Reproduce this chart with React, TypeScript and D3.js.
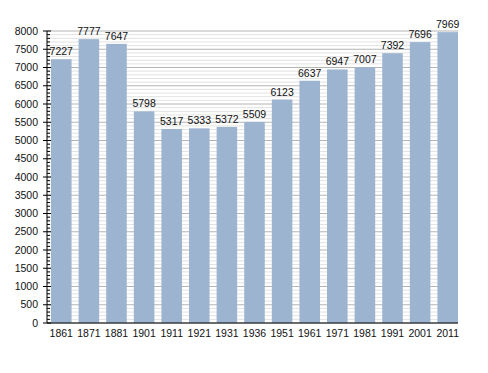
import React from 'react';
import * as d3 from 'd3';

const years = ['1861', '1871', '1881', '1901', '1911', '1921', '1931', '1936', '1951', '1961', '1971', '1981', '1991', '2001', '2011'];
const population = [7227, 7777, 7647, 5798, 5317, 5333, 5372, 5509, 6123, 6637, 6947, 7007, 7392, 7696, 7969];
const yMax = 8000;

const W = 488;
const H = 373;
const margin = { top: 31, right: 30, bottom: 50, left: 47 };

const App: React.FC = () => {
  const innerW = W - margin.left - margin.right; // 411
  const innerH = H - margin.top - margin.bottom; // 292

  const x = d3.scaleBand<string>()
    .domain(years)
    .range([4, innerW])
    .paddingInner(0.255)
    .paddingOuter(0);

  const y = d3.scaleLinear().domain([0, yMax]).range([innerH, 0]);

  const minorTicks = d3.range(0, yMax + 1, 100);
  const majorTicks = d3.range(0, yMax + 1, 500);

  return (
    <svg width={W} height={H} style={{ position: 'absolute', left: 0, top: 0 }}
      fontFamily="'Liberation Sans', Arial, sans-serif" fontSize={10.5}>
      <rect width={W} height={H} fill="white" />
      <g transform={`translate(${margin.left},${margin.top})`}>
        {/* minor grid */}
        {minorTicks.filter(t => t % 500 !== 0).map(t => (
          <line key={`m${t}`} x1={0} x2={innerW} y1={y(t)} y2={y(t)} stroke="#e2e2e2" strokeWidth={1} />
        ))}
        {/* major grid */}
        {majorTicks.map(t => (
          <line key={`M${t}`} x1={0} x2={innerW} y1={y(t)} y2={y(t)} stroke="#b4b4b4" strokeWidth={1} />
        ))}

        {/* bars */}
        {years.map((yr, i) => (
          <rect key={yr} x={x(yr)} y={y(population[i])} width={x.bandwidth()}
            height={innerH - y(population[i])} fill="#9cb4cf" />
        ))}

        {/* value labels */}
        {years.map((yr, i) => (
          <text key={`l${yr}`} x={(x(yr) || 0) + x.bandwidth() / 2} y={y(population[i]) - 4}
            textAnchor="middle" fill="#111">{population[i]}</text>
        ))}

        {/* y axis */}
        <line x1={0} x2={0} y1={y(yMax)} y2={innerH} stroke="black" />
        {minorTicks.filter(t => t % 500 !== 0).map(t => (
          <line key={`mt${t}`} x1={0} x2={3} y1={y(t)} y2={y(t)} stroke="black" />
        ))}
        {majorTicks.map(t => (
          <g key={`Mt${t}`}>
            <line x1={-4} x2={4} y1={y(t)} y2={y(t)} stroke="black" />
            <text x={-9} y={y(t)} dy="0.35em" textAnchor="end" fill="#111">{t}</text>
          </g>
        ))}

        {/* x axis */}
        <line x1={0} x2={innerW} y1={innerH} y2={innerH} stroke="black" />
        {years.map(yr => (
          <text key={`x${yr}`} x={(x(yr) || 0) + x.bandwidth() / 2} y={innerH + 14}
            textAnchor="middle" fill="#111">{yr}</text>
        ))}
      </g>
    </svg>
  );
};

export default App;
